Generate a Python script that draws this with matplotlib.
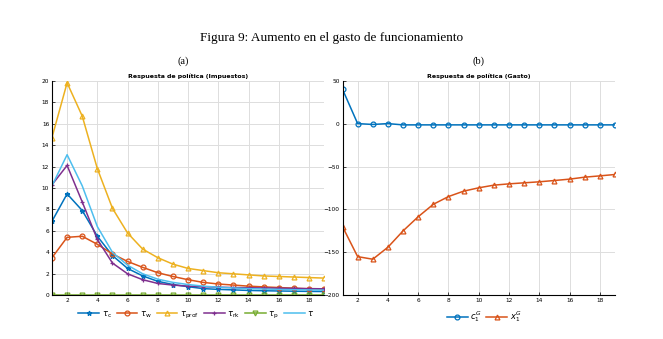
import numpy as np
import matplotlib
matplotlib.use('Agg')
import matplotlib.pyplot as plt

periodos = list(range(1, 20))

# Panel (a): respuesta de los impuestos
tau_c = [6.9, 9.45, 7.9, 5.5, 3.7, 2.5, 1.8, 1.3, 1.0, 0.8, 0.62, 0.55, 0.5, 0.45, 0.42, 0.4, 0.38, 0.36, 0.35]
tau_w = [3.5, 5.4, 5.5, 4.75, 3.85, 3.15, 2.6, 2.1, 1.75, 1.45, 1.2, 1.05, 0.95, 0.85, 0.78, 0.72, 0.66, 0.6, 0.56]
tau_prof = [14.7, 19.8, 16.7, 11.8, 8.1, 5.8, 4.3, 3.5, 2.9, 2.5, 2.3, 2.1, 2.0, 1.9, 1.8, 1.75, 1.7, 1.65, 1.6]
tau_rk = [10.3, 12.1, 8.7, 5.2, 3.0, 2.0, 1.45, 1.1, 0.95, 0.85, 0.8, 0.75, 0.72, 0.7, 0.68, 0.66, 0.64, 0.62, 0.6]
tau_p = [0.05] * 19
tau = [10.2, 13.1, 10.2, 6.4, 4.0, 2.8, 2.0, 1.5, 1.2, 1.0, 0.85, 0.75, 0.68, 0.62, 0.58, 0.55, 0.52, 0.5, 0.48]

# Panel (b): respuesta del gasto
c1G = [40, 0, -1, 0, -1.5, -1.5, -1.5, -1.5, -1.5, -1.5, -1.5, -1.5, -1.5, -1.5, -1.5, -1.5, -1.5, -1.5, -1.5]
x1G = [-120, -155, -158, -144, -125, -108.5, -94, -85, -78.7, -74.8, -71.7, -70.2, -69, -67.8, -66.3, -64.7, -62.4, -60.9, -59.3]

azul, naranja, amarillo, morado, verde, celeste = '#0072BD', '#D95319', '#EDB120', '#7E2F8E', '#77AC30', '#4DBEEE'

fig = plt.figure(figsize=(6.63, 3.39), dpi=100)
fig.text(0.5, 0.888, 'Figura 9: Aumento en el gasto de funcionamiento', ha='center', va='center',
         fontsize=9.5, family='Liberation Serif')
fig.text(0.276, 0.82, '(a)', ha='center', va='center', fontsize=7.5, family='Liberation Serif')
fig.text(0.722, 0.82, '(b)', ha='center', va='center', fontsize=7.5, family='Liberation Serif')

ax1 = fig.add_axes([0.0784, 0.129, 0.4106, 0.633])
ax2 = fig.add_axes([0.5166, 0.129, 0.411, 0.633])


def estilo(ax, titulo):
    ax.set_title(titulo, fontsize=4.5, fontweight='bold', pad=2)
    ax.grid(True, color='#dddddd', linewidth=0.7)
    ax.set_axisbelow(True)
    for s in ['top', 'right']:
        ax.spines[s].set_visible(False)
    for s in ['left', 'bottom']:
        ax.spines[s].set_linewidth(0.8)
    ax.tick_params(direction='in', length=2, width=0.5, labelsize=4.2, pad=2)
    ax.set_xlim(1, 19)
    ax.set_xticks(range(2, 20, 2))


kw = dict(linewidth=1.1, markersize=3.5, markerfacecolor='none', markeredgewidth=0.9)
ax1.plot(periodos, tau_c, color=azul, marker='*', label=r'$\tau_{\rm c}$', **kw)
ax1.plot(periodos, tau_w, color=naranja, marker='o', label=r'$\tau_{\rm w}$', **kw)
ax1.plot(periodos, tau_prof, color=amarillo, marker='^', label=r'$\tau_{\rm prof}$', **kw)
ax1.plot(periodos, tau_rk, color=morado, marker='+', label=r'$\tau_{\rm rk}$', **kw)
ax1.plot(periodos, tau_p, color=verde, marker='v', label=r'$\tau_{\rm p}$', **kw)
ax1.plot(periodos, tau, color=celeste, label=r'$\tau$', linewidth=1.1)
estilo(ax1, 'Respuesta de política (Impuestos)')
ax1.set_ylim(0, 20)
ax1.set_yticks(range(0, 21, 2))
ax1.legend(loc='upper center', bbox_to_anchor=(0.53, -0.03), ncol=6, frameon=False, fontsize=6,
           handlelength=2.5, columnspacing=0.6, handletextpad=0.3)

ax2.plot(periodos, c1G, color=azul, marker='o', label=r'$c_1^G$', **kw)
ax2.plot(periodos, x1G, color=naranja, marker='^', label=r'$x_1^G$', **kw)
estilo(ax2, 'Respuesta de política (Gasto)')
ax2.set_ylim(-200, 50)
ax2.set_yticks(range(-200, 51, 50))
ax2.legend(loc='upper center', bbox_to_anchor=(0.52, -0.03), ncol=2, frameon=False, fontsize=6,
           handlelength=2.5, columnspacing=0.6, handletextpad=0.3)

fig.savefig('out.png', dpi=100)
